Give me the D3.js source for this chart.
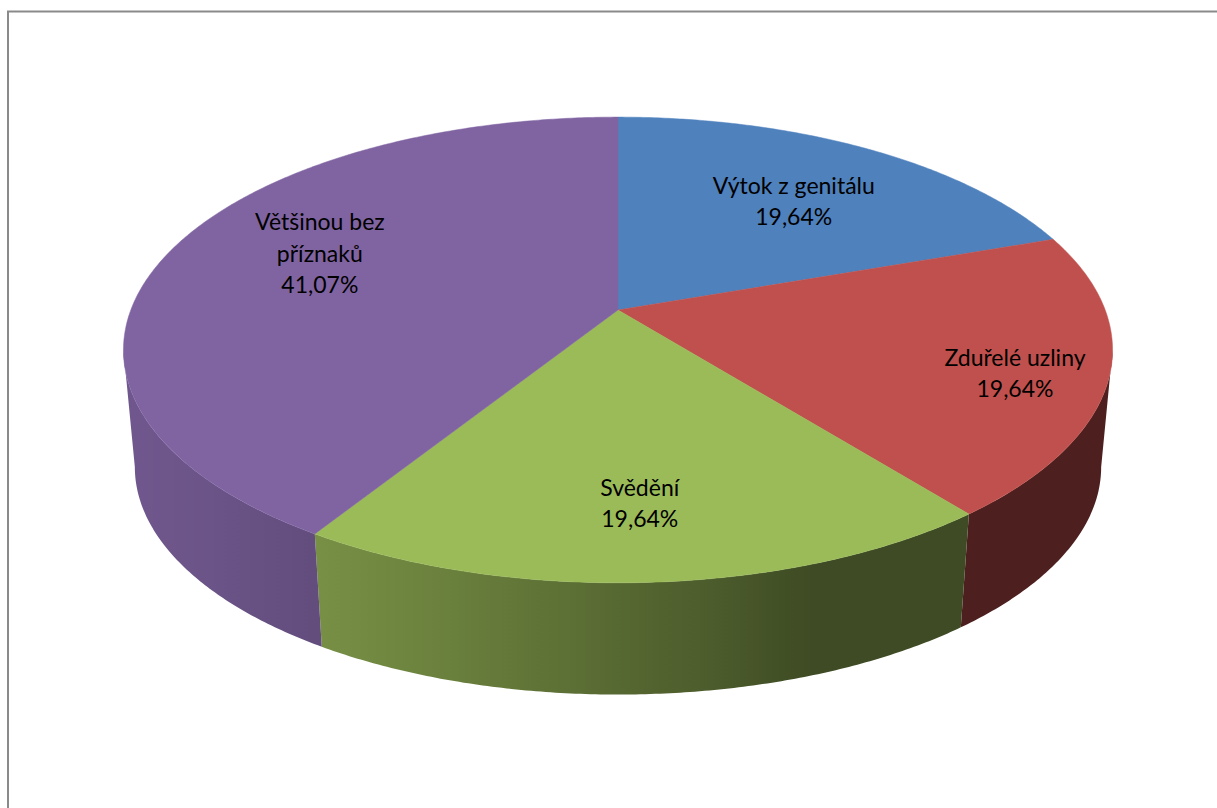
<!DOCTYPE html>
<html>
<head>
<meta charset="utf-8">
<script src="https://cdn.jsdelivr.net/npm/d3@7/dist/d3.min.js"></script>
<style>
  html, body { margin: 0; padding: 0; background: #fff; }
  svg { display: block; }
  text { font-family: Lato, "Open Sans", "Liberation Sans", sans-serif; }
</style>
</head>
<body>
<svg id="chart" width="1217" height="808"></svg>
<script>
// Data
const categories = ["Výtok z genitálu", "Zduřelé uzliny", "Svědění", "Většinou bez příznaků"];
const values = [19.64, 19.64, 19.64, 41.07];
const colors = ["#4F81BD", "#C0504D", "#9BBB59", "#8064A2"];
// label nudges (px) relative to the projected slice anchor
const labelNudge = [[-4, 8], [58, 17], [0, 13], [19, -15]];

const W = 1217, H = 808;
const svg = d3.select("#chart");
const defs = svg.append("defs");

// Frame
svg.append("path")
  .attr("d", "M8,820 V11.5 H1230")
  .attr("fill", "none")
  .attr("stroke", "#8a8a8a")
  .attr("stroke-width", 2);

// 3D pie geometry (perspective-projected cylinder)
const cx = 618, cy = 310;   // projected pie centre on top face
const A = 487.2, B = 226;   // horizontal / depth radii
const k = 0.1716;           // perspective strength
const depth = 118;          // wall height
const bottomScale = 0.977;  // far face shrink

function project(theta, r, level) {
  const x = r * Math.sin(theta), z = -r * Math.cos(theta);
  const w = 1 - k * z;
  const s = level ? bottomScale : 1;
  return [cx + s * A * x / w, cy + level * depth + s * B * z / w];
}

const pie = d3.pie().sort(null).value(d => d);
const arcs = pie(values);

const rgb = d3.scaleOrdinal().domain(d3.range(values.length)).range(colors);

// Wall shading by facing angle
const lightAngle = 250 * Math.PI / 180;
function shade(base, theta) {
  const f = 0.40 + 0.47 * Math.max(0, Math.cos(theta - lightAngle));
  const c = d3.rgb(base);
  return d3.rgb(c.r * f, c.g * f, c.b * f).formatHex();
}

// Visible outer wall range (front half of cylinder)
const visMin = Math.acos(-k), visMax = 2 * Math.PI - Math.acos(-k);

const walls = svg.append("g").attr("class", "walls");
arcs.forEach((a, i) => {
  const a0 = Math.max(a.startAngle, visMin), a1 = Math.min(a.endAngle, visMax);
  if (a1 <= a0) return;
  const n = Math.max(4, Math.ceil((a1 - a0) / (0.5 * Math.PI / 180)));
  const topPts = [], botPts = [], samples = [];
  for (let j = 0; j <= n; j++) {
    const t = a0 + (a1 - a0) * j / n;
    topPts.push(project(t, 1, 0));
    botPts.push(project(t, 1, 1));
    samples.push(t);
  }
  // horizontal gradient following the facing angle
  const xs = topPts.map(p => p[0]);
  const xMin = d3.min(xs), xMax = d3.max(xs);
  const gid = "wall-grad-" + i;
  const grad = defs.append("linearGradient")
    .attr("id", gid)
    .attr("gradientUnits", "userSpaceOnUse")
    .attr("x1", xMin).attr("x2", xMax).attr("y1", 0).attr("y2", 0);
  const stops = samples.map((t, j) => ({ off: (xs[j] - xMin) / (xMax - xMin || 1), col: shade(rgb(i), t) }))
    .sort((p, q) => p.off - q.off);
  stops.filter((s, j) => j % 4 === 0 || j === stops.length - 1).forEach(s => {
    grad.append("stop").attr("offset", s.off).attr("stop-color", s.col);
  });
  const poly = topPts.concat(botPts.slice().reverse());
  walls.append("path")
    .attr("d", "M" + poly.map(q => q.join(",")).join("L") + "Z")
    .attr("fill", "url(#" + gid + ")");
});

// Top faces
const tops = svg.append("g").attr("class", "tops");
arcs.forEach((a, i) => {
  const n = Math.max(2, Math.ceil((a.endAngle - a.startAngle) / (0.5 * Math.PI / 180)));
  const pts = [[cx, cy]];
  for (let j = 0; j <= n; j++) {
    const t = a.startAngle + (a.endAngle - a.startAngle) * j / n;
    pts.push(project(t, 1, 0));
  }
  tops.append("path")
    .attr("d", "M" + pts.map(q => q.join(",")).join("L") + "Z")
    .attr("fill", rgb(i))
    .attr("stroke", rgb(i))
    .attr("stroke-width", 0.5);
});

// Labels
const fmt = v => d3.format(".2f")(v).replace(".", ",") + "%";
const fontSize = 23, lineH = 31.5, maxW = 185;
const labels = svg.append("g").attr("class", "labels");

function wrap(name) {
  const words = name.split(" ");
  const lines = [];
  let cur = "";
  const probe = labels.append("text").attr("font-size", fontSize);
  words.forEach(w => {
    const test = cur ? cur + " " + w : w;
    probe.text(test);
    if (probe.node().getComputedTextLength() > maxW && cur) {
      lines.push(cur);
      cur = w;
    } else cur = test;
  });
  lines.push(cur);
  probe.remove();
  return lines;
}

arcs.forEach((a, i) => {
  const mid = (a.startAngle + a.endAngle) / 2;
  const [px, py] = project(mid, 0.7, 0);
  const x = px + labelNudge[i][0], y = py + labelNudge[i][1];
  const lines = wrap(categories[i]).concat([fmt(values[i])]);
  const t = labels.append("text")
    .attr("text-anchor", "middle")
    .attr("font-size", fontSize)
    .attr("fill", "#000");
  lines.forEach((ln, j) => {
    t.append("tspan")
      .attr("x", x)
      .attr("y", y + (j - (lines.length - 1) / 2) * lineH)
      .attr("dominant-baseline", "central")
      .text(ln);
  });
});
</script>
</body>
</html>
